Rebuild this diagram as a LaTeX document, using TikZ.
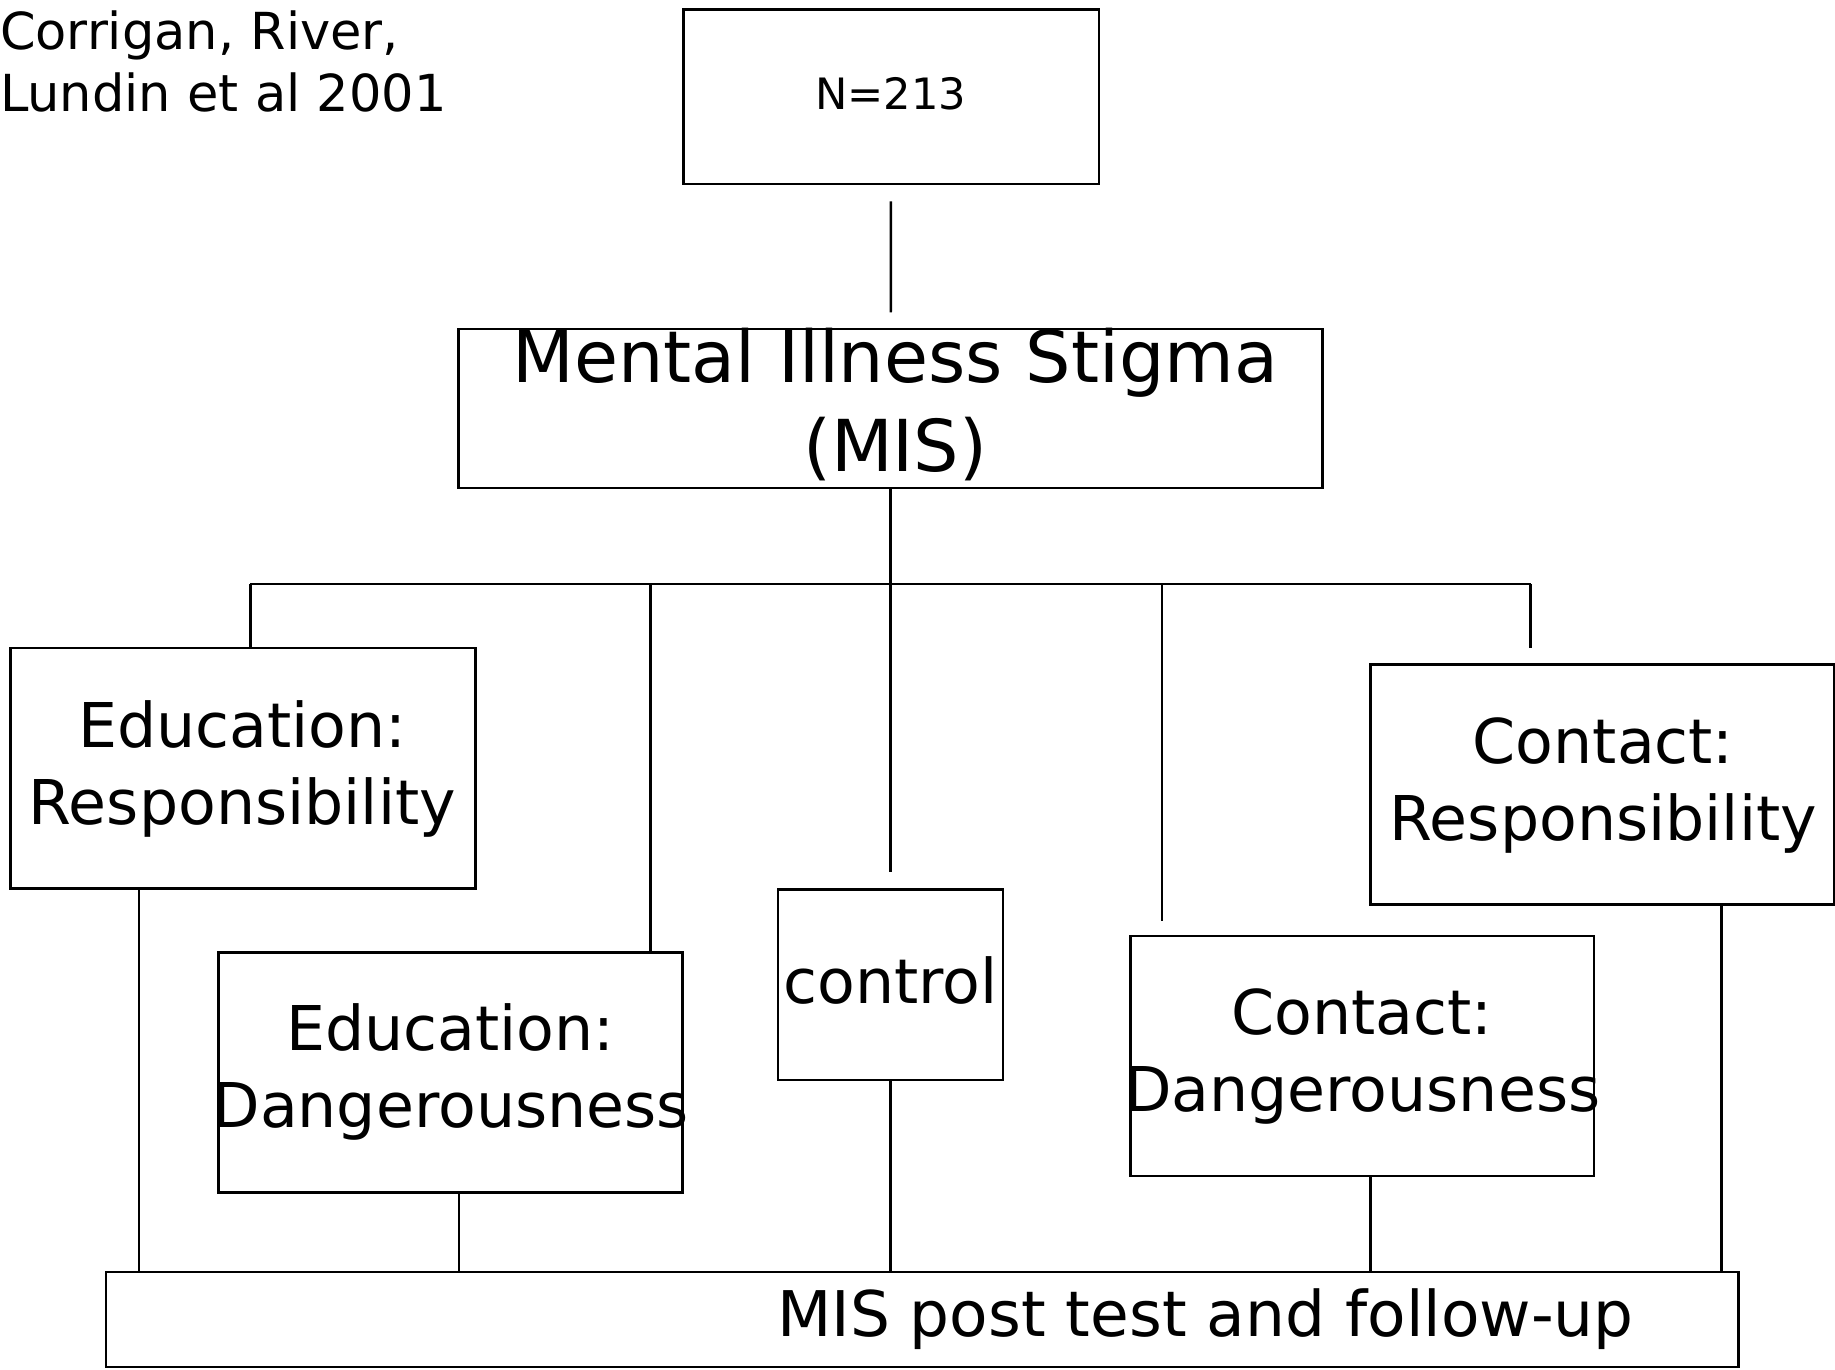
\documentclass[tikz,border=0pt]{standalone}
\usepackage{fontspec}
\setmainfont{DejaVu Sans}
\usepackage{tikz}
\usetikzlibrary{calc}

\begin{document}
\begin{tikzpicture}[x=0.01cm, y=-0.01cm, line width=0.6pt,
    box/.style={draw=black, inner sep=0pt},
    txt/.style={inner sep=0pt, align=center, font=\fontsize{15}{18.8}\selectfont}]
    \useasboundingbox (0,0) rectangle (1568,1170);
    \node[anchor=north west, inner sep=0pt, align=left, font=\fontsize{12.4}{15.1}\selectfont] (REF) at (-1,8) {Corrigan, River,\\Lundin et al 2001};
    % boxes
    \node[box, minimum width=3.55cm, minimum height=1.49cm] (N) at (761.5,82.5) {};
    \node[box, minimum width=7.38cm, minimum height=1.36cm] (MIS) at (761,349) {};
    \node[box, minimum width=3.97cm, minimum height=2.05cm] (ER) at (207.5,656.5) {};
    \node[box, minimum width=3.96cm, minimum height=2.05cm] (ED) at (385,916.5) {};
    \node[box, minimum width=1.92cm, minimum height=1.63cm] (CTL) at (761,841.5) {};
    \node[box, minimum width=3.96cm, minimum height=2.05cm] (CD) at (1164,902.5) {};
    \node[box, minimum width=3.96cm, minimum height=2.05cm] (CR) at (1369,670.5) {};
    \node[box, minimum width=13.94cm, minimum height=0.81cm] (POST) at (788,1127.5) {};
    % texts
    \node[inner sep=0pt, font=\fontsize{10.5}{12}\selectfont] (Nt) at (761,80) {N=213};
    \node[txt, font=\fontsize{17.4}{21.6}\selectfont] (MISt) at (765,346) {Mental Illness Stigma\\(MIS)};
    \node[txt] (ERt) at (207,657) {Education:\\Responsibility};
    \node[txt] (EDt) at (385,916) {Education:\\Dangerousness};
    \node[txt] (CTLt) at (761,838) {control};
    \node[txt] (CDt) at (1164,903) {Contact:\\Dangerousness};
    \node[txt] (CRt) at (1370,671) {Contact:\\Responsibility};
    \node[txt, font=\fontsize{15.3}{18.8}\selectfont] (POSTt) at (1030,1127) {MIS post test and follow-up};
    % links
    \path (N) edge[shorten <=4pt, shorten >=3.7pt] (MIS);
    \path (MIS) edge[shorten >=4pt] (CTL);
    \coordinate (B1) at (214,499);
    \coordinate (B2) at (556,499);
    \coordinate (B4) at (993,499);
    \coordinate (B5) at (1308,499);
    \path (B1) edge (B5);
    \path (B1) edge (B1 |- ER.north);
    \path (B2) edge (B2 |- ED.north);
    \path (B4) edge[shorten >=3.4pt] (B4 |- CD.north);
    \path (B5) edge[shorten >=3.7pt] (B5 |- CR.north);
    \coordinate (P1) at (119,1087);
    \coordinate (P2) at (392,1087);
    \coordinate (P4) at (1171,1087);
    \coordinate (P5) at (1471,1087);
    \path (P1 |- ER.south) edge (P1);
    \path (P2 |- ED.south) edge (P2);
    \path (CTL) edge (CTL |- POST.north);
    \path (P4 |- CD.south) edge (P4);
    \path (P5 |- CR.south) edge (P5);
\end{tikzpicture}
\end{document}
